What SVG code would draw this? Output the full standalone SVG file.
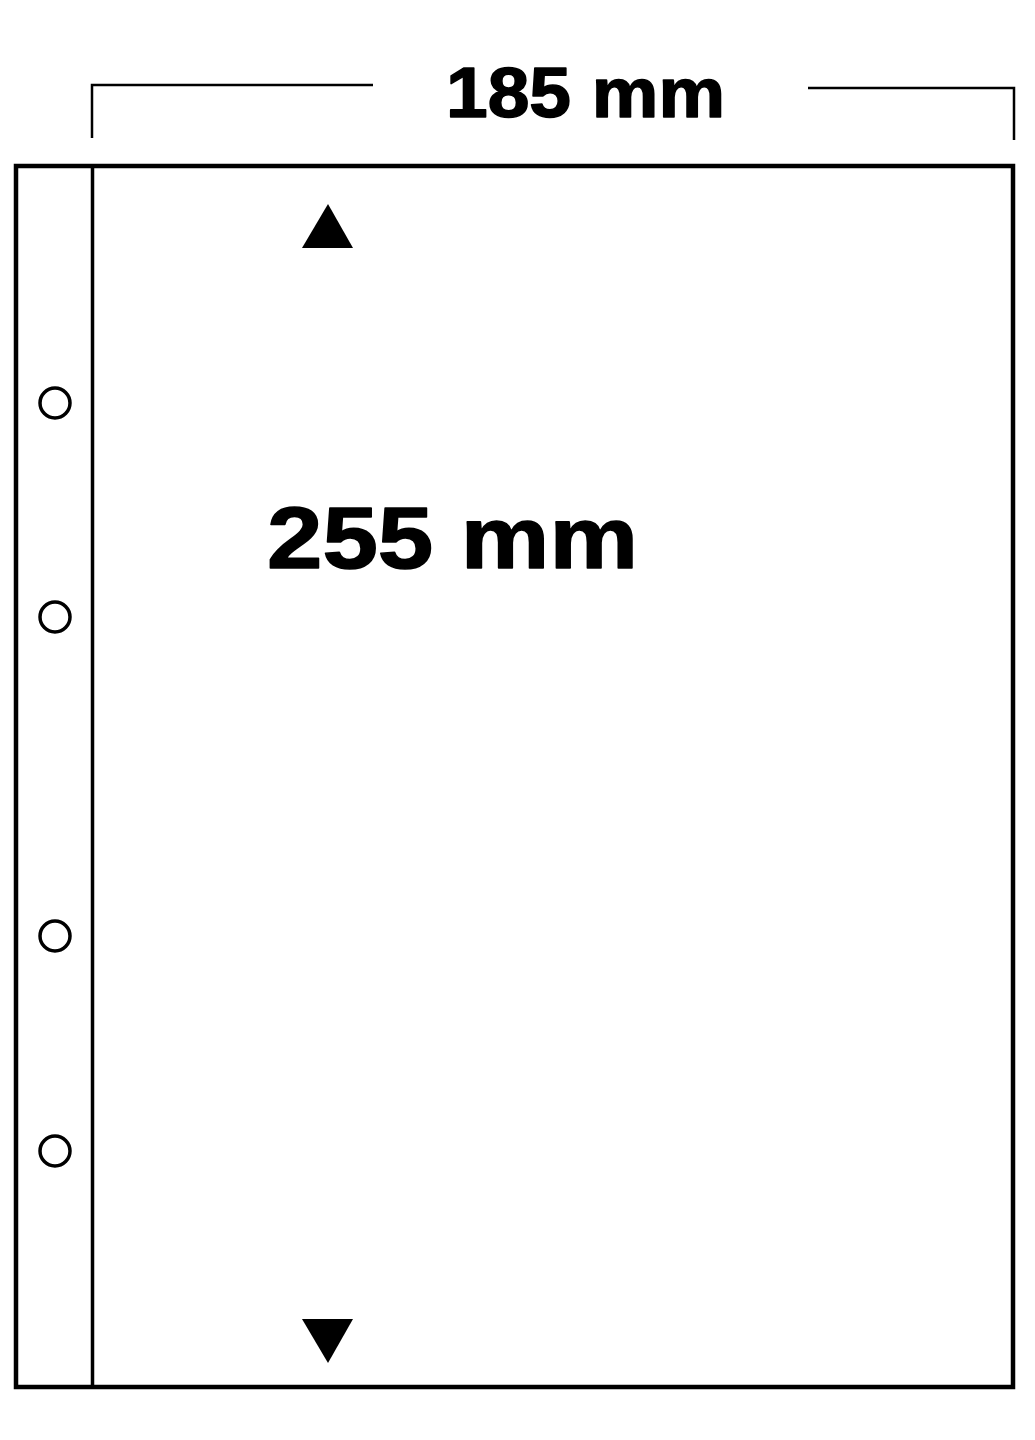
<svg xmlns="http://www.w3.org/2000/svg" width="1035" height="1440" viewBox="0 0 1035 1440">
<style>
.line{fill:none;stroke:#000;stroke-width:2.5}
.frame{fill:none;stroke:#000;stroke-width:4.5}
.hole{fill:none;stroke:#000;stroke-width:3.5}
.lbl{font-family:"Liberation Sans",Arial,sans-serif;font-weight:bold;fill:#000;stroke:#000;stroke-width:1.5;stroke-linejoin:round}
</style>
<rect width="1035" height="1440" fill="#fff"/>
<g id="dimension-width">
<polyline class="line" points="92,138 92,85 373,85"/>
<polyline class="line" points="808,88 1014,88 1014,140"/>
<text class="lbl" x="446" y="117" font-size="70" textLength="279" lengthAdjust="spacingAndGlyphs">185 mm</text>
</g>
<g id="sheet">
<rect class="frame" x="16" y="166" width="997" height="1221"/>
<line x1="92.5" y1="166" x2="92.5" y2="1387" stroke="#000" stroke-width="3.5"/>
</g>
<g id="holes">
<circle class="hole" cx="55" cy="403" r="15"/>
<circle class="hole" cx="55" cy="617" r="15"/>
<circle class="hole" cx="55" cy="936" r="15"/>
<circle class="hole" cx="55" cy="1151" r="15"/>
</g>
<g id="dimension-height">
<polygon points="328,204 353,248 302,248" fill="#000"/>
<polygon points="302,1319 353,1319 328,1363" fill="#000"/>
<text class="lbl" x="267" y="568" font-size="88" textLength="371" lengthAdjust="spacingAndGlyphs">255 mm</text>
</g>
</svg>
